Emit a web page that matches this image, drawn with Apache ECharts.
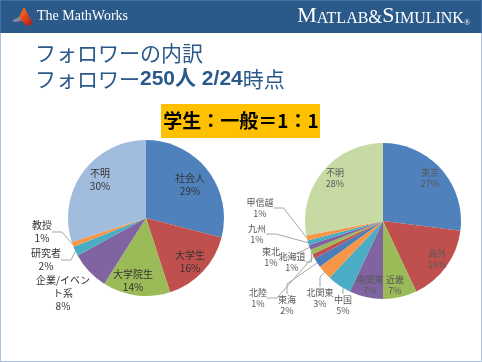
<!DOCTYPE html>
<html>
<head>
<meta charset="utf-8">
<script src="https://cdn.jsdelivr.net/npm/echarts@6/dist/echarts.min.js"></script>
<style>
html,body{margin:0;padding:0;background:#fff;}
#c{width:482px;height:362px;}
</style>
</head>
<body>
<div id="c"></div>
<script>
// ---- data ----
const leftNames  = ['社会人', '大学生', '大学院生', '企業/イベント系', '研究者', '教授', '不明'];
const leftValues = [29, 16, 14, 8, 2, 1, 30];
const rightNames  = ['東京', '海外', '近畿', '南関東', '中国', '北関東', '東海', '北陸', '北海道', '東北', '九州', '甲信越', '不明'];
const rightValues = [27, 16, 7, 7, 5, 3, 2, 1, 1, 1, 1, 1, 28];

// ---- styling / layout (not data) ----
const leftColors  = ['#4F81BD', '#C0504D', '#9BBB59', '#8064A2', '#4BACC6', '#F79646', '#A1BCDD'];
const rightColors = ['#4F81BD', '#C0504D', '#9BBB59', '#8064A2', '#4BACC6', '#F79646',
                     '#4A7EBB', '#C0504D', '#9BBB59', '#8064A2', '#4BACC6', '#F79646', '#C8DAA4'];
const leftLabelPos  = [[190,185],[190,262],[133,281],[63,293],[46,260],[42,232],[100,180]];
const leftOutside   = [false,false,false,false,true,true,false];
const rightLabelPos = [[430,178],[437,259],[395,285],[370,285],[343,305],[320,298],[287,305],
                       [258,298],[292,262],[271,257],[257,234],[260,208],[335,178]];
const rightOutside  = [false,false,false,false,true,true,true,true,true,true,true,true,false];

const cjk = '"Noto Sans CJK JP", "Noto Sans", sans-serif';

function buildData(names, values, colors, outside, extra) {
  return names.map((n, i) => {
    const d = {
      name: n, value: values[i],
      itemStyle: { color: colors[i] },
      labelLine: { show: outside[i] }
    };
    if (extra && extra[i]) Object.assign(d, extra[i]);
    return d;
  });
}

const leftExtra = {3: { label: { width: 60, overflow: 'break' } }};

const chart = echarts.init(document.getElementById('c'), null, { renderer: 'canvas' });

const option = {
  animation: false,
  backgroundColor: '#ffffff',
  graphic: [
    { type: 'rect', shape: { x: 0, y: 0, width: 482, height: 33 }, style: { fill: '#2B5A8A' } },
    { type: 'rect', shape: { x: 0.5, y: 0.5, width: 481, height: 361 },
      style: { fill: null, stroke: '#5B86C4', lineWidth: 1, lineDash: [1, 1] } },
    { type: 'polygon', shape: { points: [[12,21],[19,17],[24,7],[28,14],[33,24],[27,26],[22,21],[16,22]] },
      style: { fill: new echarts.graphic.LinearGradient(0, 0, 1, 1, [
        { offset: 0, color: '#F7A21B' }, { offset: 0.5, color: '#E8521E' }, { offset: 1, color: '#A01818' }]) } },
    { type: 'polygon', shape: { points: [[12,21],[19,17],[21,20],[16,22]] }, style: { fill: '#6C8FC0' } },
    { type: 'text', left: 37, top: 9,
      style: { text: 'The MathWorks', fill: '#ffffff', font: '14px "Liberation Serif", "DejaVu Serif", serif' } },
    { type: 'text', right: 12, top: 5,
      style: {
        text: '{b|M}{s|ATLAB}{a|&}{b|S}{s|IMULINK}{r|®}',
        rich: {
          b: { fontSize: 22, fill: '#ffffff', fontFamily: '"Liberation Serif", serif', verticalAlign: 'bottom' },
          s: { fontSize: 16, fill: '#ffffff', fontFamily: '"Liberation Serif", serif', verticalAlign: 'bottom' },
          a: { fontSize: 18, fill: '#ffffff', fontFamily: '"Liberation Serif", serif', verticalAlign: 'bottom' },
          r: { fontSize: 8, fill: '#ffffff', fontFamily: '"Liberation Serif", serif', verticalAlign: 'bottom' }
        }
      } },
    { type: 'text', left: 35, top: 43,
      style: { text: 'フォロワーの内訳', fill: '#2B5A8A', font: '21px ' + cjk } },
    { type: 'text', left: 35, top: 69,
      style: {
        text: '{n|フォロワー}{b|250人 2/24}{n|時点}',
        rich: {
          n: { fontSize: 21, fontFamily: cjk, fill: '#2B5A8A' },
          b: { fontSize: 21, fontFamily: '"Liberation Sans", ' + cjk, fontWeight: 'bold', fill: '#2B5A8A' }
        }
      } },
    { type: 'rect', shape: { x: 161, y: 104, width: 159, height: 34 }, style: { fill: '#FFC000' } },
    { type: 'text', x: 241, y: 121,
      style: { text: '学生：一般＝1：1', fill: '#000000', font: 'bold 19px ' + cjk,
               align: 'center', verticalAlign: 'middle' } }
  ],
  series: [
    {
      type: 'pie',
      center: [146, 218],
      radius: 78,
      startAngle: 90,
      clockwise: true,
      avoidLabelOverlap: false,
      silent: true,
      label: {
        show: true, position: 'outside',
        formatter: '{b}\n{c}%',
        fontSize: 10, lineHeight: 13, color: '#333333', fontFamily: cjk
      },
      labelLine: { show: true, length: 10, length2: 10, lineStyle: { color: '#A6A6A6', width: 1 } },
      labelLayout: function (p) {
        const q = leftLabelPos[p.dataIndex];
        return { x: q[0], y: q[1], align: 'center', verticalAlign: 'middle' };
      },
      data: buildData(leftNames, leftValues, leftColors, leftOutside, leftExtra)
    },
    {
      type: 'pie',
      center: [383, 221],
      radius: 78,
      startAngle: 90,
      clockwise: true,
      avoidLabelOverlap: false,
      silent: true,
      label: {
        show: true, position: 'outside',
        formatter: '{b}\n{c}%',
        fontSize: 9, lineHeight: 11, color: '#595959', fontFamily: cjk
      },
      labelLine: { show: true, length: 10, length2: 10, lineStyle: { color: '#A6A6A6', width: 1 } },
      labelLayout: function (p) {
        const q = rightLabelPos[p.dataIndex];
        return { x: q[0], y: q[1], align: 'center', verticalAlign: 'middle' };
      },
      data: buildData(rightNames, rightValues, rightColors, rightOutside)
    }
  ]
};
chart.setOption(option);
</script>
</body>
</html>
